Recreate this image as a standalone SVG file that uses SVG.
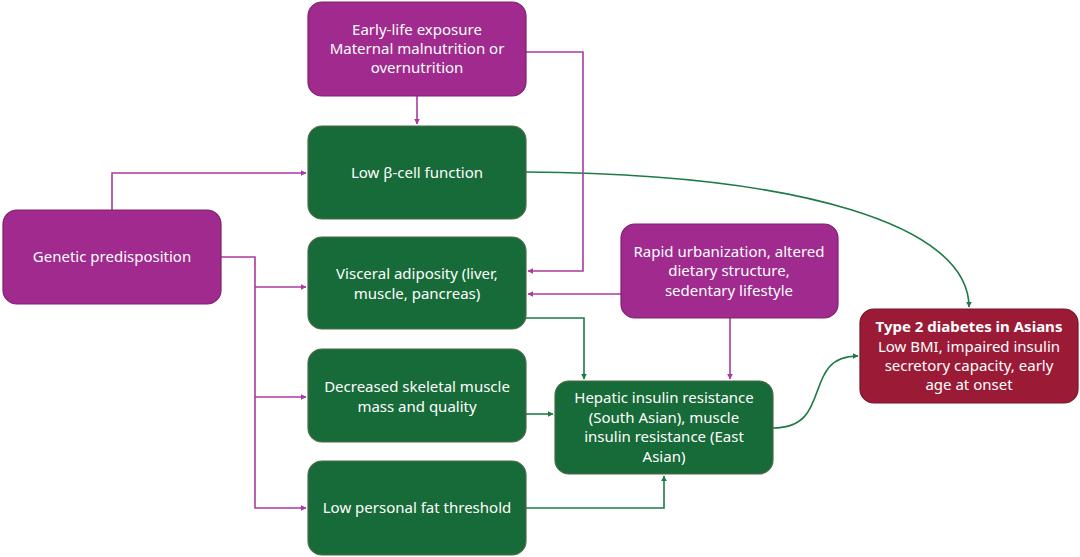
<svg xmlns="http://www.w3.org/2000/svg" width="1080" height="557" viewBox="0 0 1080 557">
<defs>
<style>
.box{stroke-width:1.2}
.mag{fill:#A02A8E;stroke:#7E2070}
.grn{fill:#176B38;stroke:#4E6B45}
.red{fill:#9B1B36;stroke:#7A1229}
text{font-family:"Noto Sans","Open Sans",sans-serif;font-size:15px;fill:#FFFFFF;text-anchor:middle}
.b{font-weight:bold}
.cm{fill:none;stroke:#A93AA0;stroke-width:1.6}
.cg{fill:none;stroke:#1E7B44;stroke-width:1.6}
</style>
<marker id="am" viewBox="0 0 10 10" refX="9" refY="5" markerWidth="6" markerHeight="6" orient="auto" markerUnits="userSpaceOnUse"><path d="M0,0 L10,5 L0,10 z" fill="#A93AA0"/></marker>
<marker id="ag" viewBox="0 0 10 10" refX="9" refY="5" markerWidth="6" markerHeight="6" orient="auto" markerUnits="userSpaceOnUse"><path d="M0,0 L10,5 L0,10 z" fill="#1E7B44"/></marker>
</defs>
<rect width="1080" height="557" fill="#FFFFFF"/>
<g id="connectors">
<path class="cg" d="M526,172 C800,174 969,225 969,307" marker-end="url(#ag)"/>
<path class="cg" d="M526,318 H584 V379" marker-end="url(#ag)"/>
<path class="cg" d="M526,414 H553" marker-end="url(#ag)"/>
<path class="cg" d="M526,508 H664 V476" marker-end="url(#ag)"/>
<path class="cg" d="M773,428 C835,428 800,356 858,356" marker-end="url(#ag)"/>
<path class="cm" d="M417,96 V124" marker-end="url(#am)"/>
<path class="cm" d="M526,52 H583 V271 H528" marker-end="url(#am)"/>
<path class="cm" d="M112,210 V173 H306" marker-end="url(#am)"/>
<path class="cm" d="M221,257 H255 V508 H306" marker-end="url(#am)"/>
<path class="cm" d="M255,287 H306" marker-end="url(#am)"/>
<path class="cm" d="M255,397 H306" marker-end="url(#am)"/>
<path class="cm" d="M621,294 H528" marker-end="url(#am)"/>
<path class="cm" d="M730,318 V379" marker-end="url(#am)"/>
</g>
<g id="early">
<rect class="box mag" x="308" y="2" width="218" height="94" rx="14"/>
<text x="417" y="35">Early-life exposure</text>
<text x="417" y="54">Maternal malnutrition or</text>
<text x="417" y="73">overnutrition</text>
</g>
<g id="beta">
<rect class="box grn" x="308" y="126" width="218" height="93" rx="14"/>
<text x="417" y="178">Low β-cell function</text>
</g>
<g id="genetic">
<rect class="box mag" x="3" y="210" width="218" height="94" rx="14"/>
<text x="112" y="262">Genetic predisposition</text>
</g>
<g id="visceral">
<rect class="box grn" x="308" y="237" width="218" height="92" rx="14"/>
<text x="417" y="279">Visceral adiposity (liver,</text>
<text x="417" y="299">muscle, pancreas)</text>
</g>
<g id="muscle">
<rect class="box grn" x="308" y="349" width="218" height="93" rx="14"/>
<text x="417" y="392">Decreased skeletal muscle</text>
<text x="417" y="412">mass and quality</text>
</g>
<g id="fat">
<rect class="box grn" x="308" y="461" width="218" height="94" rx="14"/>
<text x="417" y="513">Low personal fat threshold</text>
</g>
<g id="urban">
<rect class="box mag" x="621" y="224" width="217" height="94" rx="14"/>
<text x="729" y="257">Rapid urbanization, altered</text>
<text x="729" y="276">dietary structure,</text>
<text x="729" y="296">sedentary lifestyle</text>
</g>
<g id="hepatic">
<rect class="box grn" x="555" y="381" width="218" height="93" rx="14"/>
<text x="664" y="403">Hepatic insulin resistance</text>
<text x="664" y="423">(South Asian), muscle</text>
<text x="664" y="442">insulin resistance (East</text>
<text x="664" y="462">Asian)</text>
</g>
<g id="t2d">
<rect class="box red" x="860" y="309" width="218" height="94" rx="14"/>
<text class="b" x="969" y="332">Type 2 diabetes in Asians</text>
<text x="969" y="352">Low BMI, impaired insulin</text>
<text x="969" y="371">secretory capacity, early</text>
<text x="969" y="390">age at onset</text>
</g>
</svg>
